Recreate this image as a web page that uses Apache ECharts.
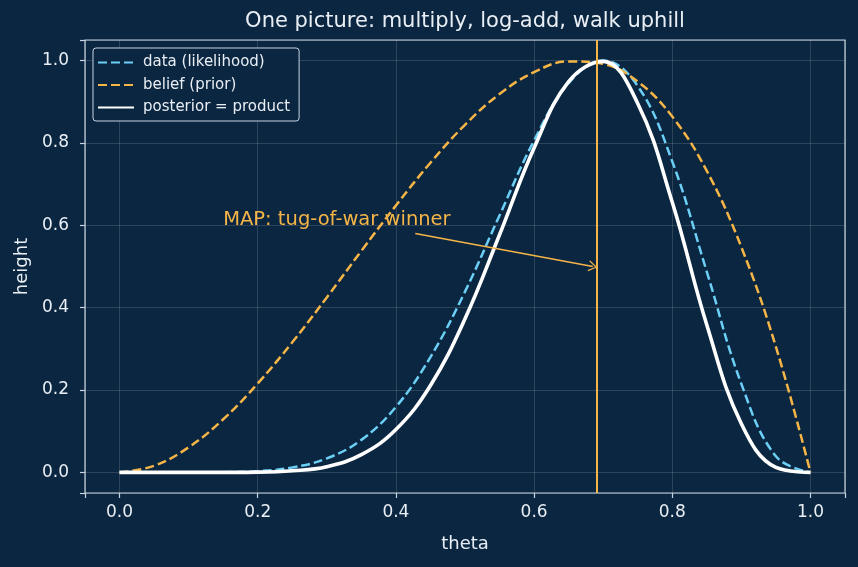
<!DOCTYPE html>
<html>
<head>
<meta charset="utf-8">
<script src="https://cdn.jsdelivr.net/npm/echarts@6/dist/echarts.min.js"></script>
<style>
  html, body { margin: 0; padding: 0; background: #0b2640; }
  #chart { width: 858px; height: 567px; }
</style>
</head>
<body>
<div id="chart"></div>
<script>
var chartDom = document.getElementById('chart');
var myChart = echarts.init(chartDom);

// values (theta step 0.05)
var theta = [0, 0.05, 0.1, 0.15, 0.2, 0.25, 0.3, 0.35, 0.4, 0.45, 0.5,
  0.55, 0.6, 0.65, 0.7, 0.75, 0.8, 0.85, 0.9, 0.95, 1];
var likelihood = [0, 0, 0, 0.0005, 0.003, 0.012, 0.034, 0.079, 0.159, 0.280, 0.439,
  0.624, 0.806, 0.945, 1.0, 0.938, 0.755, 0.487, 0.215, 0.039, 0];
var prior = [0, 0.016, 0.061, 0.129, 0.216, 0.316, 0.425, 0.538, 0.648, 0.752, 0.844,
  0.919, 0.972, 0.998, 0.992, 0.949, 0.864, 0.732, 0.547, 0.305, 0];
var posterior = [0, 0, 0, 0.0001, 0.0006, 0.004, 0.014, 0.043, 0.104, 0.211, 0.373,
  0.577, 0.788, 0.949, 0.998, 0.896, 0.656, 0.358, 0.118, 0.012, 0];
var tickValues = [0, 0.2, 0.4, 0.6, 0.8, 1.0];
var mapTheta = 0.6923;
var arrowFrom = [0.428, 0.58];
var arrowTo = [0.685, 0.5];
var noteAt = [0.15, 0.612];

var orange = '#f5b547';
var blue = '#6ccff6';
var fg = '#e8eef4';
var spine = '#c6d4e2';

function pairs(ys) {
  return theta.map(function (t, i) { return [t, ys[i]]; });
}

function axis(name, gap, margin) {
  return {
    type: 'value', min: -0.05, max: 1.05,
    name: name, nameLocation: 'middle', nameGap: gap,
    nameTextStyle: { color: fg, fontSize: 18 },
    axisLine: { show: false, onZero: false },
    axisTick: { show: true, length: 5, lineStyle: { color: spine, width: 1.2 } },
    axisLabel: {
      color: fg, fontSize: 17, margin: margin,
      customValues: tickValues,
      formatter: function (v) { return v.toFixed(1); }
    },
    splitLine: { show: true, lineStyle: { color: 'rgba(255,255,255,0.18)', width: 0.8 } }
  };
}

var option = {
  backgroundColor: '#0b2640',
  animation: false,
  textStyle: { fontFamily: 'DejaVu Sans' },
  title: {
    text: 'One picture: multiply, log-add, walk uphill',
    left: 465,
    top: 11,
    padding: 0,
    textAlign: 'center',
    textStyle: { color: fg, fontSize: 21, fontWeight: 'normal', fontFamily: 'DejaVu Sans' }
  },
  grid: {
    left: 85, right: 13, top: 40, bottom: 74,
    show: true, borderColor: spine, borderWidth: 1.2, backgroundColor: 'transparent'
  },
  legend: {
    orient: 'vertical',
    left: 93, top: 48,
    padding: [7, 9, 6, 4],
    itemGap: 7.5,
    itemWidth: 36, itemHeight: 14,
    backgroundColor: '#0b2640',
    borderColor: spine, borderWidth: 1, borderRadius: 3,
    itemStyle: { opacity: 0 },
    textStyle: { color: fg, fontSize: 15, fontFamily: 'DejaVu Sans', padding: [0, 0, 0, 4] },
    data: ['data (likelihood)', 'belief (prior)', 'posterior = product']
  },
  xAxis: axis('theta', 42, 11),
  yAxis: axis('height', 48, 16),
  series: [
    {
      name: 'data (likelihood)', type: 'line', data: pairs(likelihood),
      smooth: 0.4, symbol: 'none', z: 2,
      lineStyle: { color: blue, width: 2.5, type: [9, 4] },
      itemStyle: { color: blue }
    },
    {
      name: 'belief (prior)', type: 'line', data: pairs(prior),
      smooth: 0.4, symbol: 'none', z: 3,
      lineStyle: { color: orange, width: 2.5, type: [9, 4] },
      itemStyle: { color: orange }
    },
    {
      name: 'posterior = product', type: 'line', data: pairs(posterior),
      smooth: 0.4, symbol: 'none', z: 4,
      lineStyle: { color: '#ffffff', width: 3.6 },
      itemStyle: { color: '#ffffff' },
      markLine: {
        silent: true,
        symbol: 'none',
        label: { show: false },
        data: [
          { xAxis: mapTheta, lineStyle: { color: orange, width: 2, type: 'solid' } },
          [
            { coord: arrowFrom, symbol: 'none' },
            { coord: arrowTo, symbol: 'path://M0,10 L5,0 L10,10 L9,11 L5,2.5 L1,11 Z', symbolSize: [11, 9] }
          ]
        ],
        lineStyle: { color: orange, width: 1.5, type: 'solid' }
      },
      markPoint: {
        silent: true,
        symbol: 'circle', symbolSize: 0,
        data: [{ coord: noteAt }],
        label: {
          show: true, position: 'right', distance: 0,
          formatter: 'MAP: tug-of-war winner',
          color: orange, fontSize: 19.5, fontFamily: 'DejaVu Sans'
        }
      }
    }
  ]
};

myChart.setOption(option);
window.onresize = function () { myChart.resize(); };
</script>
</body>
</html>
